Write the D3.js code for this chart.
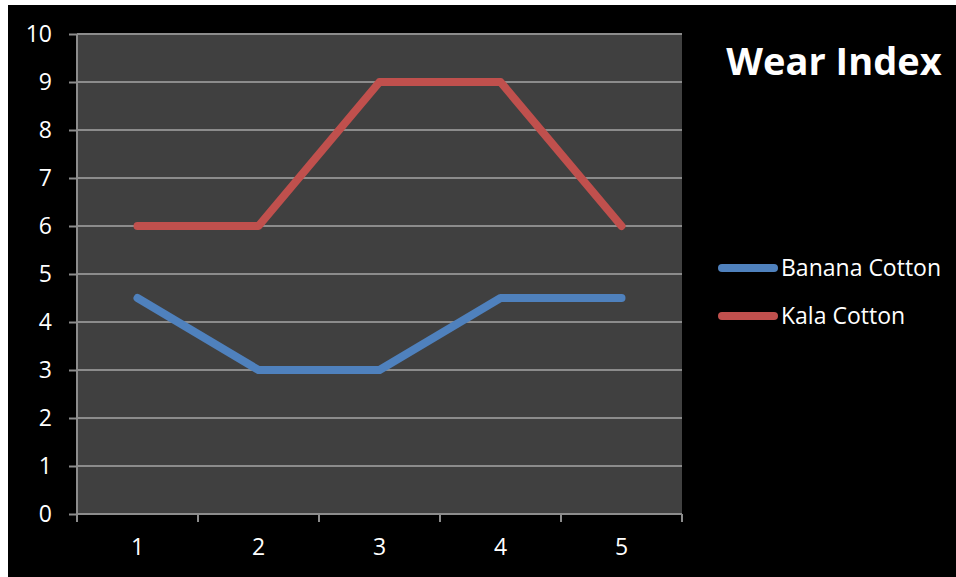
<!DOCTYPE html>
<html><head><meta charset="utf-8">
<script src="https://cdn.jsdelivr.net/npm/d3@7"></script>
<style>html,body{margin:0;padding:0;background:#fff;}</style>
</head><body>
<svg id="c" width="956" height="577"></svg>
<script>
const categories = ["1","2","3","4","5"];
const seriesNames = ["Banana Cotton","Kala Cotton"];
const bananaCotton = [4.5,3,3,4.5,4.5];
const kalaCotton = [6,6,9,9,6];
const yTicks = [0,1,2,3,4,5,6,7,8,9,10];
const colors = ["#4F81BD","#C0504D"];
const titleText = "Wear Index";

(function(){
const svg = d3.select("#c");
const font = "'Open Sans', 'Liberation Sans', sans-serif";
svg.append("rect").attr("x",8).attr("y",5).attr("width",948).attr("height",572).attr("fill","#000");

const pL=77, pR=682, pT=34, pB=514;
const x = d3.scaleBand().domain(categories).range([pL,pR]).padding(0);
const y = d3.scaleLinear().domain([0,10]).range([pB,pT]);

svg.append("rect").attr("x",pL).attr("y",pT).attr("width",pR-pL).attr("height",pB-pT).attr("fill","#404040");

// gridlines
svg.append("g").selectAll("line").data(yTicks.filter(d=>d>0)).join("line")
  .attr("x1",pL).attr("x2",pR).attr("y1",d=>y(d)).attr("y2",d=>y(d))
  .attr("stroke","#8c8c8c").attr("stroke-width",2);

// y axis
const ya = svg.append("g").attr("transform",`translate(${pL},0)`)
  .call(d3.axisLeft(y).tickValues(yTicks).tickSize(8).tickPadding(10));
ya.select(".domain").attr("stroke","#8c8c8c").attr("stroke-width",2).attr("d",`M0,${pT}V${pB}`);
ya.selectAll(".tick line").attr("stroke","#8c8c8c").attr("stroke-width",2);
ya.selectAll(".tick text").attr("fill","#fff").style("font-size","23px").style("font-family",font).attr("dx","-7");

// x axis
const xa = svg.append("g").attr("transform",`translate(0,${pB})`)
  .call(d3.axisBottom(x).tickSize(0).tickPadding(25));
xa.select(".domain").attr("stroke","#8c8c8c").attr("stroke-width",2).attr("d",`M${pL},0H${pR}`);
xa.selectAll(".tick text").attr("fill","#fff").style("font-size","23px").style("font-family",font);
const bounds = categories.map(c=>x(c)).concat([pR]);
xa.append("g").selectAll("line").data(bounds).join("line")
  .attr("x1",d=>d).attr("x2",d=>d).attr("y1",0).attr("y2",8)
  .attr("stroke","#8c8c8c").attr("stroke-width",2);

// lines
const series = [bananaCotton,kalaCotton];
const line = d3.line().x((d,i)=>x(categories[i])+x.bandwidth()/2).y(d=>y(d));
series.forEach((s,i)=>{
  svg.append("path").attr("d",line(s)).attr("fill","none").attr("stroke",colors[i])
    .attr("stroke-width",8).attr("stroke-linecap","round").attr("stroke-linejoin","round");
});

// title
svg.append("text").attr("x",834).attr("y",75).attr("text-anchor","middle")
  .attr("fill","#fff").style("font-family",font).style("font-weight","bold").style("font-size","38px").text(titleText);

// legend
seriesNames.forEach((n,i)=>{
  const ly = 268 + i*48;
  svg.append("line").attr("x1",722).attr("x2",774).attr("y1",ly).attr("y2",ly)
    .attr("stroke",colors[i]).attr("stroke-width",8).attr("stroke-linecap","round");
  svg.append("text").attr("x",781).attr("y",ly+8).attr("fill","#fff")
    .style("font-family",font).style("font-size","23px").text(n);
});
})();
</script>
</body></html>
